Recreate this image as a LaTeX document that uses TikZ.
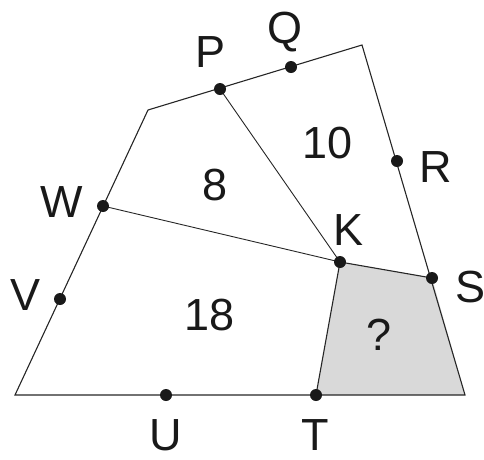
\documentclass[tikz,border=0pt]{standalone}
\usepackage{fontspec}
\setmainfont{Liberation Sans}
\definecolor{greyfill}{HTML}{D9D9D9}
\begin{document}
\begin{tikzpicture}[x=1pt,y=-1pt,
  dot/.style={circle,fill=black!90,inner sep=0pt,minimum size=12pt},
  lbl/.style={anchor=base,inner sep=0pt,font=\fontsize{45}{45}\selectfont,text=black!90},
  edge/.style={line width=1.1pt,draw=black!85},
  thin/.style={line width=0.9pt,draw=black!85}]
\useasboundingbox (0,0) rectangle (484,459);
\coordinate (A) at (15,395);
\coordinate (B) at (465,395);
\coordinate (C) at (362,45);
\coordinate (D) at (148,110);
\coordinate (P) at (220,89);
\coordinate (Q) at (291,67);
\coordinate (R) at (397,161);
\coordinate (S) at (432,278);
\coordinate (K) at (340,262);
\coordinate (T) at (316,395);
\coordinate (U) at (166,395);
\coordinate (V) at (60,299);
\coordinate (W) at (103,206);
\fill[fill=greyfill] (K) -- (S) -- (B) -- (T) -- cycle;
\draw[edge] (A) -- (B) -- (C) -- (D) -- cycle;
\draw[thin] (P) -- (K) (W) -- (K);
\draw[edge] (K) -- (S) (K) -- (T);
\foreach \p in {P,Q,R,S,K,T,U,V,W} \node[dot] (d\p) at (\p) {};
\node[lbl] (lP) at (211,67) {P};
\node[lbl] (lQ) at (285,43) {Q};
\node[lbl] (lR) at (436,182) {R};
\node[lbl] (lS) at (470,302) {S};
\node[lbl] (lK) at (349,245) {K};
\node[lbl] (lT) at (315,450) {T};
\node[lbl] (lU) at (166,450) {U};
\node[lbl] (lV) at (26,310) {V};
\node[lbl] (lW) at (62,217) {W};
\node[lbl] (n8) at (215,200) {8};
\node[lbl] (n10) at (328,158) {10};
\node[lbl] (n18) at (210,330) {18};
\node[lbl] (nq) at (379,350) {?};
\end{tikzpicture}
\end{document}
